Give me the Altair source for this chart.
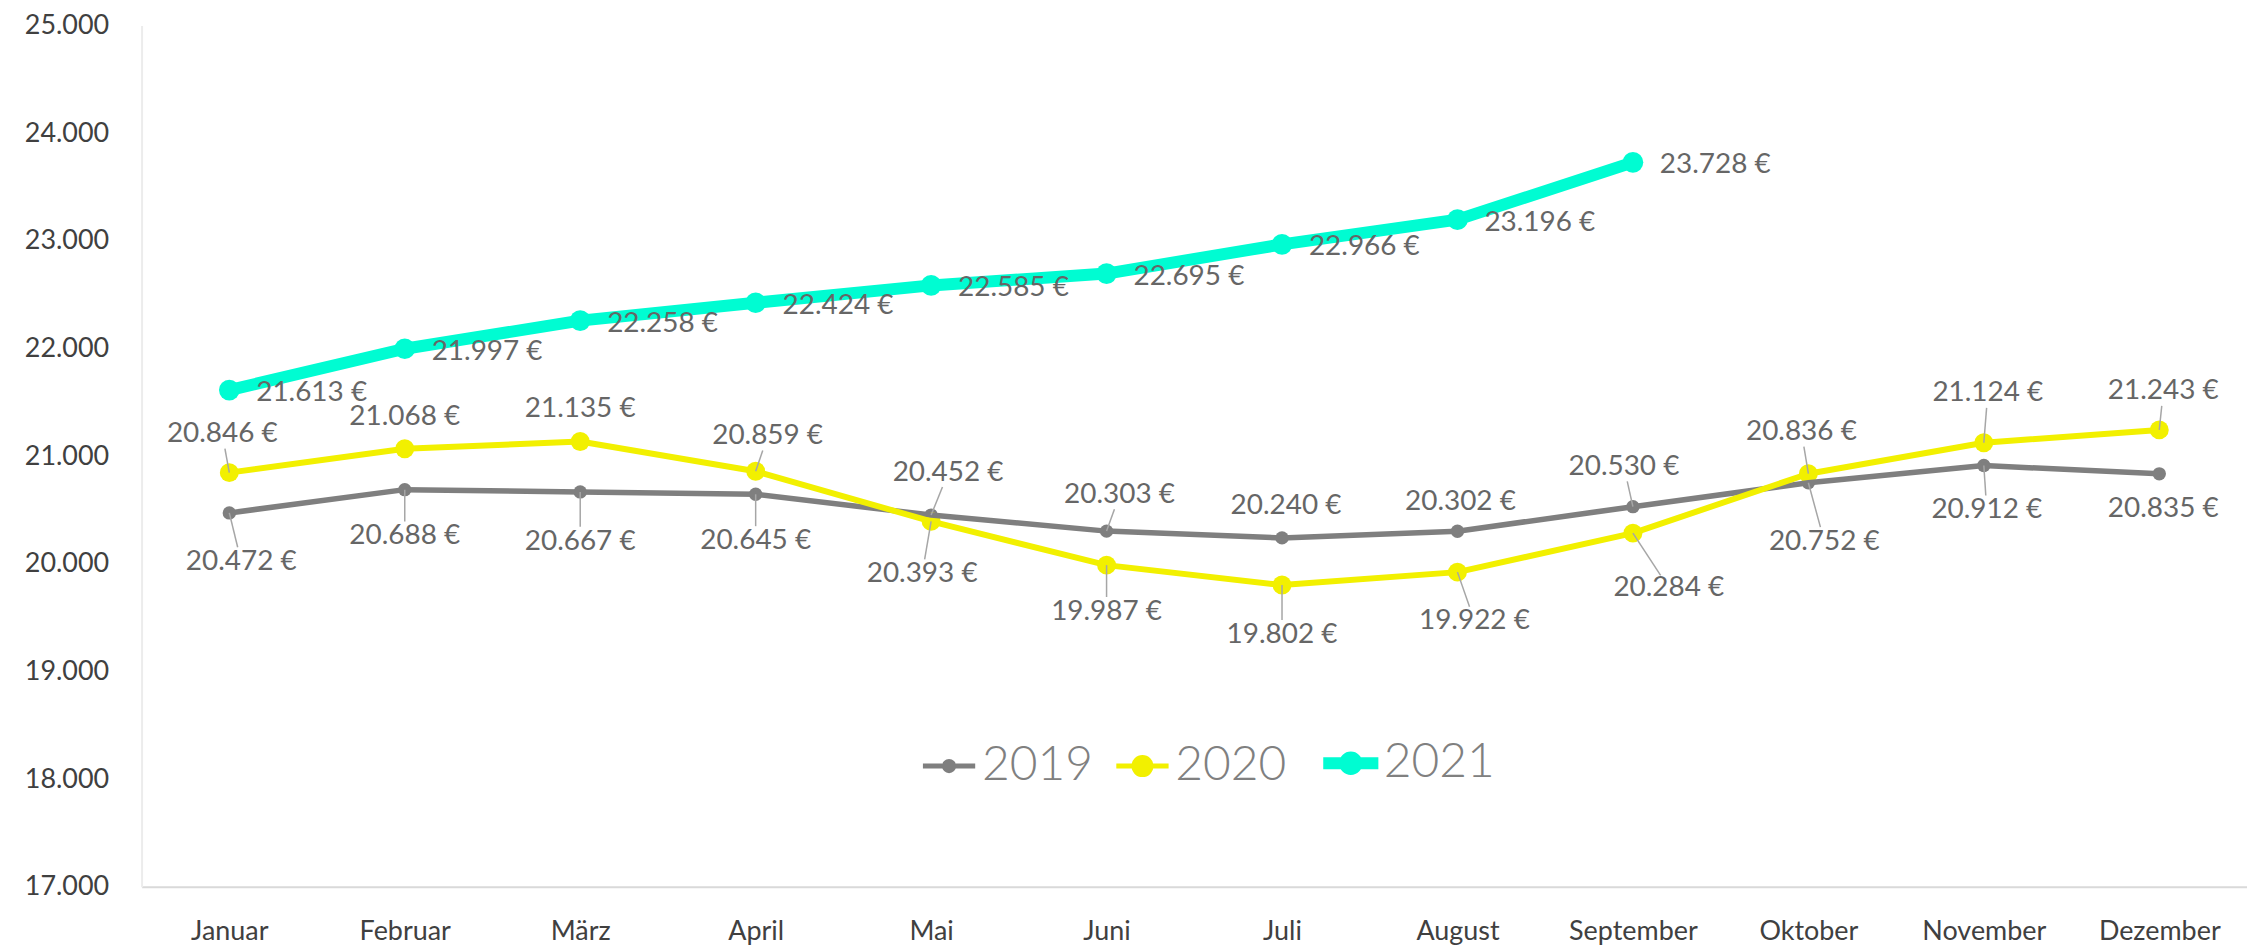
import altair as alt
import pandas as pd

# ---------------- data ----------------
monate = ["Januar", "Februar", "März", "April", "Mai", "Juni", "Juli",
          "August", "September", "Oktober", "November", "Dezember"]
jahre = ["2019", "2020", "2021"]
werte_2019 = [20472, 20688, 20667, 20645, 20452, 20303, 20240, 20302, 20530, 20752, 20912, 20835]
werte_2020 = [20846, 21068, 21135, 20859, 20393, 19987, 19802, 19922, 20284, 20836, 21124, 21243]
werte_2021 = [21613, 21997, 22258, 22424, 22585, 22695, 22966, 23196, 23728]
y_ticks = [17000, 18000, 19000, 20000, 21000, 22000, 23000, 24000, 25000]

# ---------------- styling ----------------
farben = ["#7f7f7f", "#f2f000", "#00fcd2"]
linienbreiten = {"2019": 5.5, "2020": 6, "2021": 12}
punktgroessen = {"2019": 180, "2020": 360, "2021": 430}
FONT = "Segoe UI, Lato, sans-serif"

# data-label placement offsets in pixels (as in the reference)
dx_2019 = [12, 0, 0, 0, 17, 13, 4, 3, -9, 16, 3, 4]
dy_2019 = [49, 47, 50, 47, -42, -36, -32, -29, -40, 59, 45, 35]
dx_2020 = [-7, 0, 0, 12, -9, 0, 0, 17, 36, -7, 4, 4]
dy_2020 = [-39, -32, -33, -35, 53, 47, 50, 49, 55, -42, -50, -39]

rows = []
for jahr, werte in [("2019", werte_2019), ("2020", werte_2020), ("2021", werte_2021)]:
    for i, w in enumerate(werte):
        rows.append({"Monat": monate[i], "Jahr": jahr, "Wert": w})
df = pd.DataFrame(rows)

# ---------------- encodings ----------------
x_scale = alt.Scale(type="point", padding=0.5, domain=monate)
x_axis = alt.Axis(title=None, labelFontSize=27, labelColor="#404040", labelFont=FONT,
                  labelPadding=32, ticks=False, tickSize=0, domainColor="#d9d9d9",
                  domainWidth=2, labelAngle=0, grid=False)
y_scale = alt.Scale(domain=[17000, 25000], nice=False, zero=False)
y_axis = alt.Axis(title=None, values=y_ticks,
                  labelExpr="replace(format(datum.value, ',d'), ',', '.')",
                  ticks=False, tickSize=0, grid=False, labelPadding=33,
                  domainColor="#ececec", domainWidth=2, labelFontSize=27,
                  labelColor="#404040", labelFont=FONT)

x_enc = alt.X("Monat:N", sort=monate, scale=x_scale, axis=x_axis)
y_enc = alt.Y("Wert:Q", scale=y_scale, axis=y_axis)

P19 = "M-0.92,0L0.92,0M-0.16,0A0.16,0.16 0 1,1 0.16,0A0.16,0.16 0 1,1 -0.16,0Z"
P20 = "M-0.92,0L0.92,0M-0.3,0A0.3,0.3 0 1,1 0.3,0A0.3,0.3 0 1,1 -0.3,0Z"
P21 = "M-0.97,0L0.97,0M-0.2,0A0.2,0.2 0 1,1 0.2,0A0.2,0.2 0 1,1 -0.2,0Z"

legende = alt.Legend(
    title=None, orient="none", legendX=786, legendY=716,
    direction="horizontal",
    symbolType=alt.ExprRef(f"datum.value === '2019' ? '{P19}' : (datum.value === '2020' ? '{P20}' : '{P21}')"),
    symbolSize=3249,
    symbolStrokeWidth=alt.ExprRef("datum.value === '2021' ? 12 : 5"),
    symbolFillColor=alt.ExprRef("scale('color', datum.value)"),
    symbolStrokeColor=alt.ExprRef("scale('color', datum.value)"),
    symbolOpacity=1,
    labelFontSize=48, labelColor="#808080", labelFont=FONT,
    labelFontWeight=300, labelOffset=9, columnPadding=12, padding=0,
)
color_enc = alt.Color("Jahr:N", scale=alt.Scale(domain=jahre, range=farben), legend=legende)

base = alt.Chart(df)
layers = []

# series points (first, so the legend takes its look from them) and lines
for jahr in jahre:
    sub = base.transform_filter(f"datum.Jahr == '{jahr}'")
    layers.append(sub.mark_circle(opacity=1).encode(
        x=x_enc, y=y_enc, color=color_enc, size=alt.value(punktgroessen[jahr])))
for jahr in jahre:
    sub = base.transform_filter(f"datum.Jahr == '{jahr}'")
    layers.append(sub.mark_line(strokeJoin="round").encode(
        x=x_enc, y=y_enc, color=color_enc, strokeWidth=alt.value(linienbreiten[jahr])))

label_expr = "replace(format(datum.Wert, ',d'), ',', '.') + ' €'"

# leader lines + displaced data labels for 2019 and 2020
for jahr, dxs, dys in [("2019", dx_2019, dy_2019), ("2020", dx_2020, dy_2020)]:
    for i, monat in enumerate(monate):
        dx, dy = dxs[i], dys[i]
        sel = base.transform_filter(f"datum.Jahr == '{jahr}' && datum.Monat == '{monat}'")
        d = (dx ** 2 + dy ** 2) ** 0.5
        if d >= 36:
            f = (d - 15) / d
            layers.append(sel.mark_rule(color="#a6a6a6", strokeWidth=1.5,
                                        x2Offset=round(dx * f, 1), y2Offset=round(dy * f, 1)).encode(
                x=x_enc, y=y_enc, x2=alt.X2("Monat"), y2=alt.Y2("Wert")))
        layers.append(sel.transform_calculate(txt=label_expr).mark_text(
            fontSize=28, color="#666666", font=FONT, align="center", baseline="middle",
            dx=dx, dy=dy).encode(x=x_enc, y=y_enc, text="txt:N"))

# 2021 labels to the right of the points
layers.append(base.transform_filter("datum.Jahr == '2021'").transform_calculate(
    txt=label_expr).mark_text(fontSize=28, color="#666666", font=FONT,
                              align="left", baseline="middle", dx=27, dy=3).encode(
    x=x_enc, y=y_enc, text="txt:N"))

chart = alt.layer(*layers).properties(
    width=2112, height=864,
    autosize=alt.AutoSizeParams(type="none"),
    padding={"left": 134, "top": 16, "right": 0, "bottom": 58},
    background="white",
).configure_view(stroke=None)

chart.save("out.html", embed_options={"renderer": "svg", "actions": False})
